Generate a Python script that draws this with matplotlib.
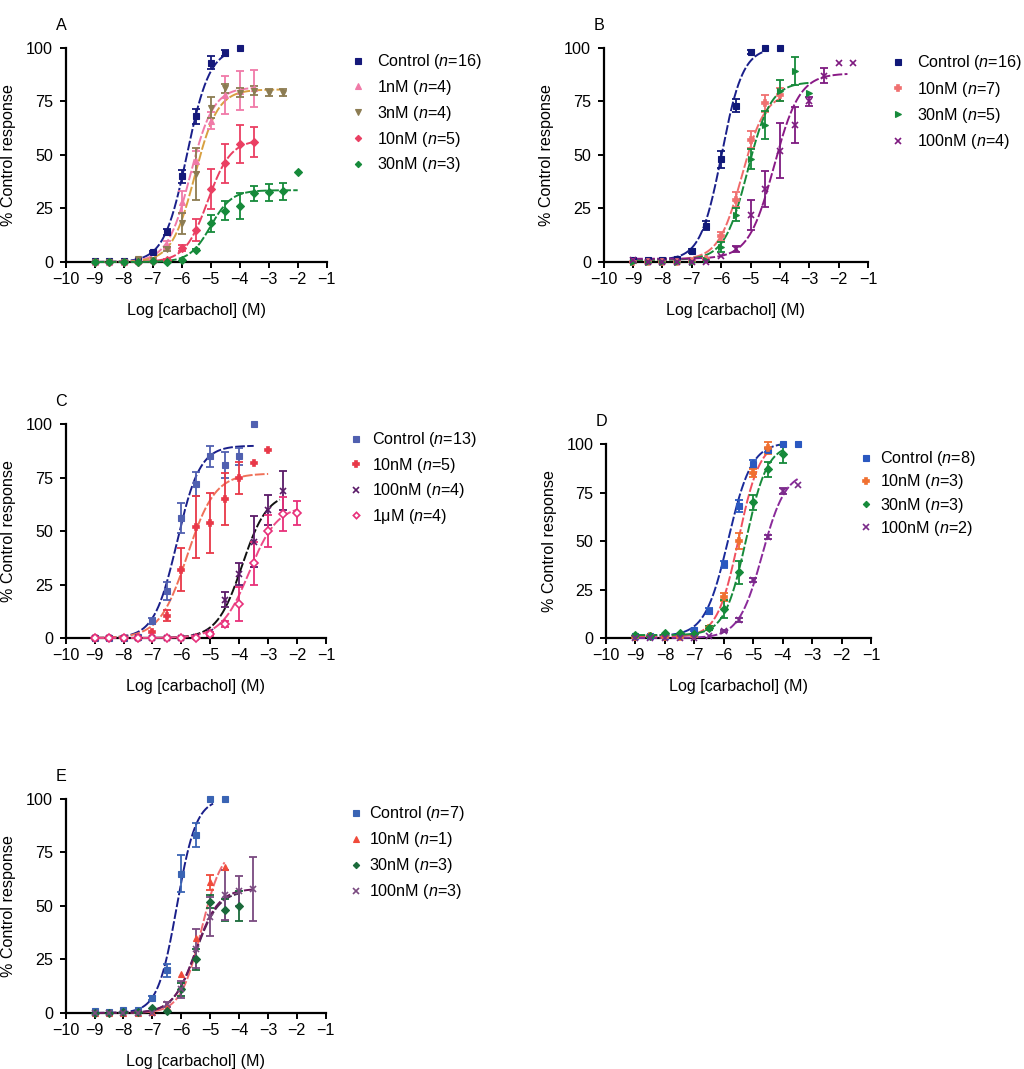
import numpy as np
import matplotlib
matplotlib.use("Agg")
import matplotlib.pyplot as plt
from matplotlib.lines import Line2D

plt.rcParams['font.family'] = ['Liberation Sans', 'DejaVu Sans']
plt.rcParams['mathtext.fontset'] = 'custom'
plt.rcParams['mathtext.it'] = 'Liberation Sans:italic'
plt.rcParams['mathtext.rm'] = 'Liberation Sans'
plt.rcParams['axes.unicode_minus'] = True

FS = 11.6
W, H = 1024, 1069

# ---------------- data ----------------
x_ticks = [-10, -9, -8, -7, -6, -5, -4, -3, -2, -1]
y_ticks = [0, 25, 50, 75, 100]
x_label = "Log [carbachol] (M)"
y_label = "% Control response"

# fit parameters: (bottom, top, logEC50, hill, x_start, x_end)
# Panel A
A_ctrl_x = [-9, -8.5, -8, -7.5, -7, -6.5, -6, -5.5, -5, -4.5, -4]
A_ctrl_y = [0.5, 0.5, 0.5, 1, 4.5, 14, 40, 68, 93, 97.5, 100]
A_ctrl_e = [0, 0, 0, 0, 0.5, 1.5, 3, 3.5, 3, 1.5, 0]
A_ctrl_fit = (0, 100, -5.82, 1.1, -9, -4.45)
A_1nM_x = [-9, -8.5, -8, -7.5, -7, -6.5, -6, -5.5, -5, -4.5, -4, -3.5]
A_1nM_y = [0, 0, 0, 0.5, 1, 8, 28, 47, 66, 78, 80, 81]
A_1nM_e = [0, 0, 0, 0, 0.5, 2, 5, 5, 4, 9, 9, 8.5]
A_1nM_fit = (0, 81.5, -5.7, 1.1, -9, -3.5)
A_3nM_x = [-9, -8.5, -8, -7.5, -7, -6.5, -6, -5.5, -5, -4.5, -4, -3.5, -3, -2.5]
A_3nM_y = [0, 0, 0, 1.5, 1, 6, 18, 41, 72, 81, 79, 80, 79, 79]
A_3nM_e = [0, 0, 0, 0, 0, 1, 5, 12, 5, 2, 2, 2, 1.5, 1.5]
A_3nM_fit = (0, 80.5, -5.55, 1.1, -9, -2.5)
A_10nM_x = [-9, -8.5, -8, -7.5, -7, -6.5, -6, -5.5, -5, -4.5, -4, -3.5]
A_10nM_y = [0, 0, 0, 0, 0.5, 1, 6.5, 15, 34, 46, 55, 56]
A_10nM_e = [0, 0, 0, 0, 0, 0.5, 1.5, 5, 9.5, 9, 9, 7]
A_10nM_fit = (0, 57, -5.1, 1.1, -9, -3.5)
A_30nM_x = [-9, -8.5, -8, -7.5, -7, -6.5, -6, -5.5, -5, -4.5, -4, -3.5, -3, -2.5, -2]
A_30nM_y = [0, 0, 0, 0, 0.5, 0, 1, 5.5, 18, 24, 26, 32, 32.5, 33, 42]
A_30nM_e = [0, 0, 0, 0, 0, 0, 0, 0.5, 4, 4.5, 6, 3.5, 4, 4, 0]
A_30nM_fit = (0, 33.5, -5.0, 1.2, -9, -2.0)

# Panel B
B_ctrl_x = [-9, -8.5, -8, -7.5, -7, -6.5, -6, -5.5, -5, -4.5, -4]
B_ctrl_y = [1, 1, 1, 1.5, 5, 17, 48, 73, 98, 100, 100]
B_ctrl_e = [0, 0, 0, 0, 1, 2, 4, 3, 1, 0, 0]
B_ctrl_fit = (1, 100, -5.98, 1.2, -9, -4.6)
B_10nM_x = [-9, -8.5, -8, -7.5, -7, -6.5, -6, -5.5, -5, -4.5, -4]
B_10nM_y = [0, 0, 0, 0, 0.5, 1.5, 12, 29, 57, 74, 78]
B_10nM_e = [0, 0, 0, 0, 0, 0.5, 2, 3.5, 4, 4, 3]
B_10nM_fit = (1, 79, -5.3, 1.1, -9, -4.0)
B_30nM_x = [-9, -8.5, -8, -7.5, -7, -6.5, -6, -5.5, -5, -4.5, -4, -3.5, -3]
B_30nM_y = [0, 0, 0, 0, 0, 1, 7, 22, 48, 64, 80, 89, 79]
B_30nM_e = [0, 0, 0, 0, 0, 0, 2.5, 3, 4.5, 6.5, 5, 6.5, 0]
B_30nM_fit = (1, 84, -5.1, 1.1, -9, -3.0)
B_100nM_x = [-9, -8.5, -8, -7.5, -7, -6.5, -6, -5.5, -5, -4.5, -4, -3.5, -3, -2.5, -2, -1.5]
B_100nM_y = [1, 0, 0, 0, 0, 0, 3, 6, 22, 34, 52, 64, 75, 87, 93, 93]
B_100nM_e = [0, 0, 0, 0, 0, 0, 0, 1.5, 7, 8.5, 13, 8.5, 2, 3.5, 0, 0]
B_100nM_fit = (1.5, 88, -4.2, 1.0, -9, -1.7)

# Panel C
C_ctrl_x = [-9, -8.5, -8, -7.5, -7, -6.5, -6, -5.5, -5, -4.5, -4, -3.5]
C_ctrl_y = [0, 0, 0, 0.5, 8, 22, 56, 72, 85, 81, 85, 100]
C_ctrl_e = [0, 0, 0, 0, 1.5, 4, 7, 5.5, 5, 6, 4, 0]
C_ctrl_fit = (0, 90, -6.15, 1.1, -9, -3.5)
C_10nM_x = [-9, -8.5, -8, -7.5, -7, -6.5, -6, -5.5, -5, -4.5, -4, -3.5, -3]
C_10nM_y = [0, 0, 0, 0, 3, 10.5, 32, 52, 54, 65, 75, 82, 88]
C_10nM_e = [0, 0, 0, 0, 0, 2.5, 10, 14.5, 14, 12, 7.5, 0, 0]
C_10nM_fit = (0, 77, -5.8, 0.9, -9, -3.0)
C_100nM_x = [-9, -8.5, -8, -7.5, -7, -6.5, -6, -5.5, -5, -4.5, -4, -3.5, -3, -2.5]
C_100nM_y = [0, 0, 0, 0, 0, 0, 0, 0.5, 3, 18, 30, 45, 60, 69]
C_100nM_e = [0, 0, 0, 0, 0, 0, 0, 0, 0, 3.5, 5, 12, 7, 9]
C_100nM_fit = (0, 68, -3.9, 1.0, -9, -2.6)
C_1uM_x = [-9, -8.5, -8, -7.5, -7, -6.5, -6, -5.5, -5, -4.5, -4, -3.5, -3, -2.5, -2]
C_1uM_y = [0, 0, 0, 0, 0, 0, 0, 0, 2, 6.5, 16, 35, 50, 58, 58.5]
C_1uM_e = [0, 0, 0, 0, 0, 0, 0, 0, 1, 1.5, 8, 10, 7.5, 8, 5.5]
C_1uM_fit = (0, 62, -3.65, 0.9, -9, -2.0)

# Panel D
D_ctrl_x = [-9, -8.5, -8, -7.5, -7, -6.5, -6, -5.5, -5, -4.5, -4, -3.5]
D_ctrl_y = [1, 1, 1, 1.5, 4, 14, 38, 68, 90, 97, 100, 100]
D_ctrl_e = [0, 0, 0, 0, 0.5, 1.5, 2, 3, 2, 1, 0, 0]
D_ctrl_fit = (1, 101, -5.85, 1.1, -9, -4.0)
D_10nM_x = [-9, -8.5, -8, -7.5, -7, -6.5, -6, -5.5, -5, -4.5]
D_10nM_y = [0.5, 1, 0.5, 0.5, 1, 5, 21, 50, 85, 98]
D_10nM_e = [0, 0, 0, 0, 0, 1, 2, 4, 2, 3]
D_10nM_fit = (0.5, 102, -5.5, 1.2, -9, -4.5)
D_30nM_x = [-9, -8.5, -8, -7.5, -7, -6.5, -6, -5.5, -5, -4.5, -4]
D_30nM_y = [1.5, 1, 2.5, 2.5, 2, 5, 15, 34, 70, 87, 95]
D_30nM_e = [0, 0, 0, 0, 0, 1, 4.5, 6, 4, 4, 4.5]
D_30nM_fit = (1.5, 100, -5.25, 1.2, -9, -4.0)
D_100nM_x = [-9, -8.5, -8, -7.5, -7, -6.5, -6, -5.5, -5, -4.5, -4, -3.5]
D_100nM_y = [0, 0, 0, 0, 0, 1, 3.5, 9.5, 30, 52, 76, 79]
D_100nM_e = [0, 0, 0, 0, 0, 0, 0.5, 1, 1, 1, 1.5, 0]
D_100nM_fit = (0, 86, -4.7, 1.1, -9, -3.5)

# Panel E
E_ctrl_x = [-9, -8.5, -8, -7.5, -7, -6.5, -6, -5.5, -5, -4.5]
E_ctrl_y = [1, 0.5, 1.5, 1.5, 7, 20, 65, 83, 100, 100]
E_ctrl_e = [0, 0, 0, 0, 1, 3, 8.5, 5.5, 0, 0]
E_ctrl_fit = (0, 100, -6.15, 1.3, -9, -4.9)
E_10nM_x = [-9, -8.5, -8, -7.5, -7, -6.5, -6, -5.5, -5, -4.5]
E_10nM_y = [0, 0, 0, 0, 0.5, 3, 18, 35, 61, 68]
E_10nM_e = [0, 0, 0, 0, 0, 0, 0, 0, 3.5, 0]
E_10nM_fit = (0, 78, -5.3, 1.2, -9, -4.5)
E_30nM_x = [-9, -8.5, -8, -7.5, -7, -6.5, -6, -5.5, -5, -4.5, -4]
E_30nM_y = [0, 0, 0.5, 0.5, 2.5, 1, 11, 25, 52, 48, 50]
E_30nM_e = [0, 0, 0, 0, 0, 0, 3, 5, 3, 5, 7]
E_30nM_fit = (0, 57, -5.5, 1.1, -9, -4.0)
E_100nM_x = [-9, -8.5, -8, -7.5, -7, -6.5, -6, -5.5, -5, -4.5, -4, -3.5]
E_100nM_y = [0, 0, 0, 0, 0, 4, 11, 30, 45, 55, 57, 58]
E_100nM_e = [0, 0, 0, 0, 0, 1, 4, 9, 9, 11.5, 7, 15]
E_100nM_fit = (0, 58, -5.5, 1.1, -9, -3.5)


def hill(x, bottom, top, ec50, h):
    return bottom + (top - bottom) / (1 + 10 ** (h * (ec50 - x)))


# series: label, x, y, err, fit, marker color, curve color, marker, open
panels = [
    dict(letter="A", rect=(65.7, 47.7, 326.7, 262), leg=(358, 377, 62, 25.2),
         series=[
             (r"Control ($n$=16)", A_ctrl_x, A_ctrl_y, A_ctrl_e, A_ctrl_fit, "#15197a", "#1a1f8a", "s", False),
             (r"1nM ($n$=4)", A_1nM_x, A_1nM_y, A_1nM_e, A_1nM_fit, "#f07aa8", "#f07aa8", "^", False),
             (r"3nM ($n$=4)", A_3nM_x, A_3nM_y, A_3nM_e, A_3nM_fit, "#8c7c52", "#d8a040", "v", False),
             (r"10nM ($n$=5)", A_10nM_x, A_10nM_y, A_10nM_e, A_10nM_fit, "#ea3f62", "#ea3f62", "D", False),
             (r"30nM ($n$=3)", A_30nM_x, A_30nM_y, A_30nM_e, A_30nM_fit, "#168a3a", "#168a3a", "D", False),
         ]),
    dict(letter="B", rect=(603.7, 47.7, 868, 262), leg=(898, 917, 63, 25.8),
         series=[
             (r"Control ($n$=16)", B_ctrl_x, B_ctrl_y, B_ctrl_e, B_ctrl_fit, "#101878", "#1a1f8a", "s", False),
             (r"10nM ($n$=7)", B_10nM_x, B_10nM_y, B_10nM_e, B_10nM_fit, "#f07070", "#f06a6a", "P", False),
             (r"30nM ($n$=5)", B_30nM_x, B_30nM_y, B_30nM_e, B_30nM_fit, "#168a3a", "#168a3a", ">", False),
             (r"100nM ($n$=4)", B_100nM_x, B_100nM_y, B_100nM_e, B_100nM_fit, "#7e1a80", "#8a1a86", "x", False),
         ]),
    dict(letter="C", rect=(65.7, 424.3, 326, 638), leg=(356, 372, 440, 25),
         series=[
             (r"Control ($n$=13)", C_ctrl_x, C_ctrl_y, C_ctrl_e, C_ctrl_fit, "#5060b0", "#1a1f8a", "s", False),
             (r"10nM ($n$=5)", C_10nM_x, C_10nM_y, C_10nM_e, C_10nM_fit, "#e83848", "#f07058", "P", False),
             (r"100nM ($n$=4)", C_100nM_x, C_100nM_y, C_100nM_e, C_100nM_fit, "#5a1a68", "#111111", "x", False),
             (r"1$\mathrm{\mu}$M ($n$=4)", C_1uM_x, C_1uM_y, C_1uM_e, C_1uM_fit, "#e8307a", "#ee4a88", "D", True),
         ]),
    dict(letter="D", rect=(606, 444.3, 871.3, 638), leg=(866, 880, 459, 22.6),
         series=[
             (r"Control ($n$=8)", D_ctrl_x, D_ctrl_y, D_ctrl_e, D_ctrl_fit, "#2a58c0", "#1a2a9a", "s", False),
             (r"10nM ($n$=3)", D_10nM_x, D_10nM_y, D_10nM_e, D_10nM_fit, "#f07030", "#f05060", "P", False),
             (r"30nM ($n$=3)", D_30nM_x, D_30nM_y, D_30nM_e, D_30nM_fit, "#168a3a", "#168a3a", "D", False),
             (r"100nM ($n$=2)", D_100nM_x, D_100nM_y, D_100nM_e, D_100nM_fit, "#7a2a8a", "#8a2a9a", "x", False),
         ]),
    dict(letter="E", rect=(65.7, 798.7, 325.7, 1013), leg=(356, 369, 814, 25.4),
         series=[
             (r"Control ($n$=7)", E_ctrl_x, E_ctrl_y, E_ctrl_e, E_ctrl_fit, "#3a64b4", "#1a1f8a", "s", False),
             (r"10nM ($n$=1)", E_10nM_x, E_10nM_y, E_10nM_e, E_10nM_fit, "#f04a3a", "#f06a70", "^", False),
             (r"30nM ($n$=3)", E_30nM_x, E_30nM_y, E_30nM_e, E_30nM_fit, "#1a6a3a", "#4a2a50", "D", False),
             (r"100nM ($n$=3)", E_100nM_x, E_100nM_y, E_100nM_e, E_100nM_fit, "#7a4a80", "#6a1a60", "x", False),
         ]),
]

fig = plt.figure(figsize=(W / 100, H / 100), dpi=100)
fs_px = FS * 100 / 72

for p in panels:
    x0, y0, x1, y1 = p["rect"]
    ax = fig.add_axes([x0 / W, 1 - y1 / H, (x1 - x0) / W, (y1 - y0) / H])
    ax.set_xlim(-10, -1)
    ax.set_ylim(0, 100)
    for s in ("top", "right"):
        ax.spines[s].set_visible(False)
    for s in ("left", "bottom"):
        ax.spines[s].set_linewidth(1.6)
        ax.spines[s].set_zorder(1)
    ax.set_xticks(x_ticks)
    ax.set_yticks(y_ticks)
    ax.tick_params(axis="both", length=4.5, width=1.4, labelsize=FS)
    ax.tick_params(axis="y", pad=4.5)
    ax.tick_params(axis="x", pad=2.5)
    ax.set_xlabel(x_label, fontsize=FS, labelpad=12)
    ax.set_ylabel(y_label, fontsize=FS, labelpad=7)

    handles = []
    for (lab, xs, ys, es, fit, mc, cc, mk, hollow) in p["series"]:
        b, t, ec, h, xa, xb = fit
        xc = np.linspace(xa, xb, 300)
        ax.plot(xc, hill(xc, b, t, ec, h), color=cc, lw=1.4,
                ls=(0, (5, 1.2)), zorder=2, clip_on=False)
        xs = np.array(xs, dtype=float)
        ys = np.array(ys, dtype=float)
        es = np.array(es, dtype=float)
        mask = es > 0
        if mask.any():
            ax.errorbar(xs[mask], ys[mask], yerr=es[mask], fmt="none",
                        ecolor=mc, elinewidth=1.3, capsize=3, capthick=1.3,
                        zorder=3, clip_on=False)
        ms = 5 if mk not in ("s", "D") else (4.5 if mk == "s" else 3.8)
        mew = 1.2 if (mk in ("x", "P") or hollow) else 0.8
        mfc = "white" if hollow else mc
        ax.plot(xs, ys, ls="none", marker=mk, color=mc, ms=ms, mfc=mfc,
                mew=mew, zorder=4, clip_on=False)
        handles.append(Line2D([], [], ls="none", marker=mk, color=mc,
                              ms=ms * 0.85, mfc=mfc, mew=mew, label=lab))

    mx, tx, my, pitch = p["leg"]
    ls = (pitch - fs_px * 1.146) / fs_px
    htp = (tx - mx - 0.5 * fs_px) / fs_px
    ax.legend(handles=handles, loc="upper left",
              bbox_to_anchor=((mx - 0.5 * fs_px) / W, 1 - (my - 0.6 * fs_px) / H),
              bbox_transform=fig.transFigure, frameon=False, fontsize=FS,
              handlelength=1.0, handletextpad=htp, labelspacing=ls,
              borderpad=0, borderaxespad=0)

    fig.text((x0 - 4.5) / W, 1 - (y0 - 22.5) / H, p["letter"], fontsize=FS,
             ha="center", va="center")

fig.savefig("out.png", dpi=100)
